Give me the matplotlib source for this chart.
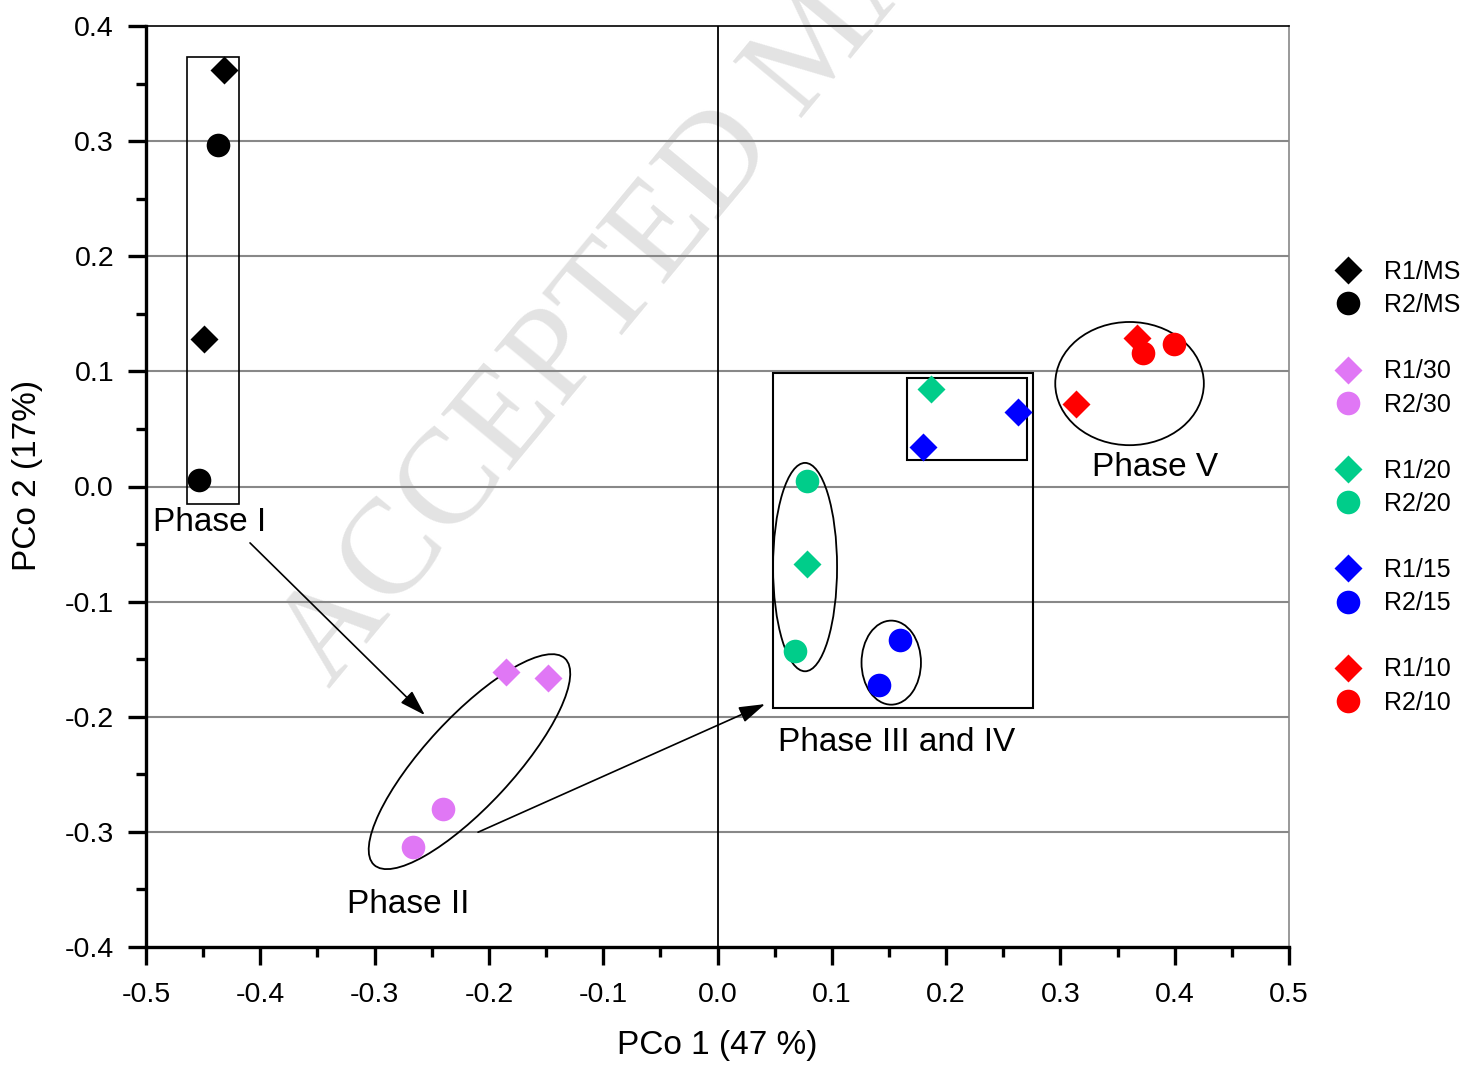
import matplotlib
matplotlib.use("Agg")
import matplotlib.pyplot as plt
from matplotlib.patches import Rectangle, Ellipse
from matplotlib.lines import Line2D

plt.rcParams['font.family'] = ['Liberation Sans', 'DejaVu Sans']

# PCoA scores: (PCo1, PCo2) for each sample
groups = ["MS", "30", "20", "15", "10"]
colors = ["#000000", "#E077F5", "#00CD8A", "#0000FF", "#FF0000"]

r1_x = {"MS": [-0.432, -0.449], "30": [-0.185, -0.148], "20": [0.187, 0.078],
        "15": [0.180, 0.263], "10": [0.367, 0.314]}
r1_y = {"MS": [0.362, 0.128], "30": [-0.161, -0.166], "20": [0.085, -0.067],
        "15": [0.034, 0.065], "10": [0.129, 0.072]}
r2_x = {"MS": [-0.437, -0.454], "30": [-0.240, -0.266], "20": [0.078, 0.068],
        "15": [0.160, 0.141], "10": [0.372, 0.399]}
r2_y = {"MS": [0.297, 0.006], "30": [-0.280, -0.313], "20": [0.005, -0.143],
        "15": [-0.133, -0.172], "10": [0.116, 0.124]}

xticks = [-0.5, -0.4, -0.3, -0.2, -0.1, 0.0, 0.1, 0.2, 0.3, 0.4, 0.5]
yticks = [-0.4, -0.3, -0.2, -0.1, 0.0, 0.1, 0.2, 0.3, 0.4]

fig = plt.figure(figsize=(14.79, 10.66), dpi=100)
ax = fig.add_axes([146 / 1479, 1 - 947 / 1066, 1143 / 1479, 921 / 1066])

ax.set_xlim(-0.5, 0.5)
ax.set_ylim(-0.4, 0.4)

# grid + zero line
for yv in yticks[1:-1]:
    ax.axhline(yv, color="#888888", lw=1.5, zorder=0.5)
ax.axvline(0, color="black", lw=1.3, zorder=0.6)

# watermark
ax.text(329 / 1479, 1 - 689 / 1066, "ACCEPTED MANUSCRIPT", transform=fig.transFigure,
        rotation=50.4, rotation_mode='anchor', ha='left', va='baseline',
        fontsize=98, family='Liberation Serif', color="#e3e3e3", zorder=0.2)

# group outlines
ax.add_patch(Rectangle((-0.464, -0.015), 0.045, 0.388, fill=False, lw=1.2, zorder=1))
ax.add_patch(Rectangle((0.0486, -0.1925), 0.2274, 0.2915, fill=False, lw=1.5, zorder=1))
ax.add_patch(Rectangle((0.166, 0.023), 0.105, 0.071, fill=False, lw=1.5, zorder=1))
ax.add_patch(Ellipse((-0.217, -0.239), 0.245, 0.077, angle=47, fill=False, lw=1.3, zorder=1))
ax.add_patch(Ellipse((0.0766, -0.070), 0.056, 0.181, fill=False, lw=1.3, zorder=1))
ax.add_patch(Ellipse((0.152, -0.153), 0.052, 0.073, fill=False, lw=1.3, zorder=1))
ax.add_patch(Ellipse((0.3605, 0.0894), 0.130, 0.107, fill=False, lw=1.3, zorder=1))

# arrows
arrow_kw = dict(arrowstyle='-|>,head_length=0.8,head_width=0.25', color='black',
                lw=1.2, mutation_scale=20, shrinkA=0, shrinkB=0)
ax.annotate("", xy=(-0.256, -0.1986), xytext=(-0.409, -0.049), arrowprops=arrow_kw)
ax.annotate("", xy=(0.0416, -0.189), xytext=(-0.2095, -0.3003), arrowprops=arrow_kw)

# phase labels
lab_kw = dict(fontsize=24, ha='left', va='center', zorder=3)
ax.text(-0.494, -0.031, "Phase I", **lab_kw)
ax.text(-0.324, -0.363, "Phase II", **lab_kw)
ax.text(0.053, -0.222, "Phase III and IV", **lab_kw)
ax.text(0.3277, 0.0169, "Phase V", **lab_kw)

# points
for g, c in zip(groups, colors):
    ax.plot(r1_x[g], r1_y[g], ls='none', marker='D', ms=14.5, color=c, mec='none', zorder=4)
    ax.plot(r2_x[g], r2_y[g], ls='none', marker='o', ms=17, color=c, mec='none', zorder=4)

# spines / ticks
ax.spines['left'].set_linewidth(2.4)
ax.spines['bottom'].set_linewidth(2.4)
ax.spines['top'].set_linewidth(1.2)
ax.spines['right'].set_linewidth(1.2)
ax.spines['right'].set_color("#888888")

ax.set_xticks(xticks)
ax.set_yticks(yticks)
ax.set_xticklabels([f"{v:.1f}" for v in xticks])
ax.set_yticklabels([f"{v:.1f}" for v in yticks])
ax.set_xticks([v + 0.05 for v in xticks[:-1]], minor=True)
ax.set_yticks([v + 0.05 for v in yticks[:-1]], minor=True)
ax.tick_params(axis='both', which='major', direction='out', length=13, width=2.4,
               labelsize=20.5)
ax.tick_params(axis='both', which='minor', direction='out', length=7, width=2.4)
ax.tick_params(axis='x', which='major', pad=12)
ax.tick_params(axis='y', which='major', pad=10)

ax.set_xlabel("PCo 1 (47 %)", fontsize=24, labelpad=16)
ax.set_ylabel("PCo 2 (17%)", fontsize=24)
ax.yaxis.set_label_coords(-0.090, 0.512)

# legend with blank rows between pairs
handles, labels = [], []
for i, (g, c) in enumerate(zip(groups, colors)):
    if i > 0:
        handles.append(Line2D([], [], ls='none'))
        labels.append(" ")
    handles.append(Line2D([], [], ls='none', marker='D', ms=14.5, color=c, mec='none'))
    labels.append(f"R1/{g}")
    handles.append(Line2D([], [], ls='none', marker='o', ms=17, color=c, mec='none'))
    labels.append(f"R2/{g}")

fig.legend(handles, labels, loc='upper left', bbox_to_anchor=(1333 / 1479, 1 - 260 / 1066),
           frameon=False, fontsize=18, handlelength=1.2, handletextpad=0.85,
           labelspacing=0.365, borderpad=0, borderaxespad=0)

fig.savefig("out.png", dpi=100)
